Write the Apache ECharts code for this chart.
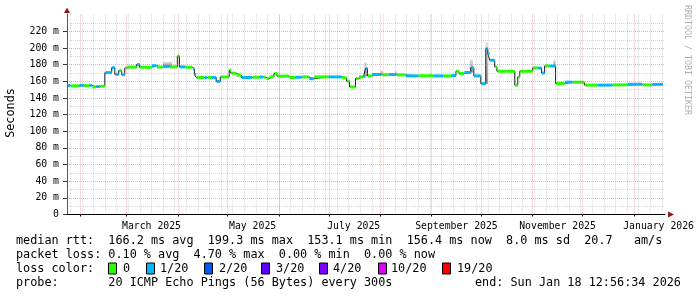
<!DOCTYPE html>
<html><head><meta charset="utf-8">
<script src="https://cdn.jsdelivr.net/npm/echarts@6/dist/echarts.min.js"></script>
<style>html,body{margin:0;padding:0;background:#fff}#c{width:697px;height:297px}</style>
</head><body><div id="c"></div>
<script>
// ---- data ----
const segStart = [
'2025-01-24T00:00','2025-01-25T20:00','2025-01-31T05:00','2025-02-03T05:00','2025-02-06T05:00','2025-02-08T00:00',
'2025-02-10T10:00','2025-02-12T20:00','2025-02-15T20:00','2025-02-20T00:00','2025-02-21T20:00','2025-02-24T05:00',
'2025-02-26T00:00','2025-02-27T20:00','2025-03-01T00:00','2025-03-07T00:00','2025-03-08T20:00','2025-03-16T00:00',
'2025-03-19T00:00','2025-03-22T15:00','2025-03-26T20:00','2025-03-31T14:00','2025-04-01T20:00','2025-04-05T10:00',
'2025-04-09T14:00','2025-04-10T20:00','2025-04-12T00:00','2025-04-16T20:00','2025-04-18T14:00','2025-04-21T00:00',
'2025-04-24T00:00','2025-04-26T12:00','2025-05-01T22:00','2025-05-03T02:00','2025-05-06T02:00','2025-05-09T02:00',
'2025-05-15T17:00','2025-05-19T22:00','2025-05-22T07:00','2025-05-24T02:00','2025-05-25T22:00','2025-05-28T22:00',
'2025-05-30T17:00','2025-06-06T22:00','2025-06-10T12:00','2025-06-14T17:00','2025-06-18T22:00','2025-06-21T22:00',
'2025-06-30T22:00','2025-07-08T17:00','2025-07-11T17:00','2025-07-13T12:00','2025-07-17T02:00','2025-07-18T22:00',
'2025-07-21T22:00','2025-07-23T02:00','2025-07-24T07:00','2025-07-26T17:00','2025-08-01T17:00','2025-08-05T22:00',
'2025-08-10T17:00','2025-08-16T02:00','2025-08-23T22:00','2025-09-01T22:00','2025-09-07T22:00','2025-09-12T17:00',
'2025-09-15T17:00','2025-09-17T12:00','2025-09-20T12:00','2025-09-24T17:00','2025-09-26T12:00','2025-09-30T17:00',
'2025-10-03T17:00','2025-10-04T22:00','2025-10-06T02:00','2025-10-09T02:00','2025-10-10T10:00','2025-10-21T05:00',
'2025-10-23T00:00','2025-10-24T05:00','2025-11-01T00:00','2025-11-04T00:00','2025-11-06T10:00','2025-11-08T05:00',
'2025-11-11T05:00','2025-11-14T20:00','2025-11-20T05:00','2025-11-25T00:00','2025-12-02T05:00','2025-12-10T00:00',
'2025-12-19T00:00','2025-12-28T00:00','2026-01-06T00:00','2026-01-12T00:00'
];
const medianMs = [
155.0,154.6,155.2,154.8,155.3,153.4,
153.8,154.2,170.5,176.5,168.5,173.0,
168.0,176.0,177.2,180.3,177.0,178.8,
177.2,178.0,177.5,190.5,177.4,177.0,
175.2,168.3,164.7,164.5,164.8,164.6,
160.0,165.4,173.8,169.8,167.5,164.7,
165.0,165.3,165.0,163.5,165.4,169.5,
166.3,164.7,165.0,165.4,163.2,165.4,
165.4,164.3,160.3,153.3,163.5,165.4,
166.0,175.5,166.6,168.3,168.0,168.3,
167.8,166.6,166.8,166.6,166.5,167.0,
172.2,169.5,170.7,176.2,166.6,157.2,
199.3,193.4,185.4,177.4,172.2,155.5,
165.4,172.2,176.2,176.0,170.0,178.6,
178.4,157.5,159.0,159.0,155.5,155.5,
155.8,156.5,155.8,156.4
];
const lossOf20 = [
1,0,1,0,1,0,
1,0,1,1,1,0,
1,0,0,1,0,1,
0,1,0,0,1,0,
1,1,0,1,0,1,
1,0,0,0,0,1,
0,1,0,0,0,0,
0,0,1,0,1,0,
1,0,0,0,0,0,
1,1,0,1,0,1,
0,1,0,1,0,1,
0,0,1,1,1,1,
1,1,1,0,0,0,
0,0,0,1,1,0,
1,0,1,0,0,1,
0,1,0,1
];
const dataEnd = '2026-01-18T12:56';
// smoke (ping spread) segments
const smokeStart = ['2025-03-23T00:00','2025-07-22T12:00','2025-08-01T08:00','2025-08-10T00:00','2025-09-24T00:00','2025-10-03T12:00','2025-11-13T12:00'];
const smokeEnd   = ['2025-03-28T12:00','2025-07-24T00:00','2025-08-02T12:00','2025-08-11T00:00','2025-09-26T00:00','2025-10-05T00:00','2025-11-14T20:00'];
const smokeHigh  = [183.5,183.0,173.0,172.5,186.0,207.0,186.0];

const xMin = '2025-01-24T00:00', xMax = '2026-01-19T20:00';
const xLabelDates = ['2025-03-16','2025-05-16','2025-07-16','2025-09-16','2025-11-16','2026-01-16'];
const xTickLabels = ['March 2025','May 2025','July 2025','September 2025','November 2025','January 2026'];
const yTickValues = [0,20,40,60,80,100,120,140,160,180,200,220];
const yTickLabels = ['0','20 m','40 m','60 m','80 m','100 m','120 m','140 m','160 m','180 m','200 m','220 m'];

const lossLevels = ['0','1/20','2/20','3/20','4/20','10/20','19/20'];
const lossColors = ['#26ff00','#00b8ff','#0059ff','#5e00ff','#7e00ff','#dd00ff','#ff0000'];

const legendLine1 = 'median rtt:  166.2 ms avg  199.3 ms max  153.1 ms min  156.4 ms now  8.0 ms sd  20.7   am/s';
const legendLine2 = 'packet loss: 0.10 % avg  4.70 % max  0.00 % min  0.00 % now';
const legendLine3 = 'loss color:';
const probeText = 'probe:       20 ICMP Echo Pings (56 Bytes) every 300s';
const endText = 'end: Sun Jan 18 12:56:34 2026';

// ---- build ----
const ts = s => new Date(s.length === 10 ? s + 'T00:00' : s).getTime();
function colorForLoss(n){ // n of 20
  if (n <= 0) return lossColors[0];
  if (n <= 1) return lossColors[1];
  if (n <= 2) return lossColors[2];
  if (n <= 3) return lossColors[3];
  if (n <= 4) return lossColors[4];
  if (n <= 10) return lossColors[5];
  return lossColors[6];
}
const segs = segStart.map((d,i)=>[ts(d), ts(i+1<segStart.length?segStart[i+1]:dataEnd), medianMs[i], lossOf20[i]]);
const lineData = segStart.map((d,i)=>[ts(d), medianMs[i]]).concat([[ts(dataEnd), medianMs[medianMs.length-1]]]);
const medianAt = t => { let v = medianMs[0]; for (let i=0;i<segStart.length;i++){ if (ts(segStart[i])<=t) v = medianMs[i]; } return v; };
const smokeData = smokeStart.map((d,i)=>[ts(d), ts(smokeEnd[i]), medianAt(ts(d)), smokeHigh[i]]);

// grid lines
const monthStarts = [];
for (let m = 1; m <= 12; m++) { const d = new Date(2025, m, 1); monthStarts.push(d.getTime()); }
const sundays = [];
for (let d = new Date(2025,0,26); d.getTime() <= ts(xMax); d = new Date(d.getFullYear(), d.getMonth(), d.getDate()+7)) sundays.push(d.getTime());
const majorStyle = {color:'rgba(225,90,90,0.45)', width:1, type:[1,1]};
const minorStyle = {color:'rgba(150,150,150,0.38)', width:1, type:[1,1]};
const gridMarks = [];
sundays.forEach(t=>gridMarks.push({xAxis:t, lineStyle:minorStyle}));
for (let v=10; v<=230; v+=20) gridMarks.push({yAxis:v, lineStyle:minorStyle});
monthStarts.forEach(t=>gridMarks.push({xAxis:t, lineStyle:majorStyle}));
for (let v=20; v<=220; v+=20) gridMarks.push({yAxis:v, lineStyle:majorStyle});

const labelTs = xLabelDates.map(ts);
const mono = 'DejaVu Sans Mono';
const legendFont = '11.8px "DejaVu Sans Mono"';
const txt = (x,y,t)=>({type:'text', x:x, y:y, style:{text:t, font:legendFont, fill:'#000', verticalAlign:'middle'}});

const graphics = [];
graphics.push({type:'text', x:11, y:113, rotation:Math.PI/2, style:{text:'Seconds', font:legendFont, fill:'#000', align:'center', verticalAlign:'middle'}});
graphics.push({type:'text', x:687, y:60, rotation:-Math.PI/2, style:{text:'RRDTOOL / TOBI OETIKER', font:'8.3px "DejaVu Sans Mono"', fill:'#b0b0b0', align:'center', verticalAlign:'middle'}});
graphics.push({type:'polygon', shape:{points:[[64,13],[70,13],[67,7.5]]}, style:{fill:'#8e1b1b'}});
graphics.push({type:'polygon', shape:{points:[[668,211.5],[668,217.5],[674,214.5]]}, style:{fill:'#8e1b1b'}});
const y1=241, y2=254.5, y3=268.5, y4=283;
graphics.push(txt(16,y1,legendLine1));
graphics.push(txt(16,y2,legendLine2));
graphics.push(txt(16,y3,legendLine3));
const boxX=[108,146,204,261,319,378,442], labX=[123,160,219,276,333,391,457];
lossLevels.forEach((l,i)=>{
  graphics.push({type:'rect', shape:{x:boxX[i]+0.5, y:y3-5.5, width:8, height:11}, style:{fill:lossColors[i], stroke:'#000', lineWidth:1}});
  graphics.push(txt(labX[i],y3,l));
});
graphics.push(txt(16,y4,probeText));
graphics.push(txt(475,y4,endText));

const chart = echarts.init(document.getElementById('c'), null, {renderer:'canvas'});
chart.setOption({
  animation:false,
  backgroundColor:'#fff',
  grid:{left:67, right:29, top:14, bottom:82.5, containLabel:false},
  xAxis:{type:'value', min:ts(xMin), max:ts(xMax), scale:true,
    axisLine:{show:true, onZero:false, lineStyle:{color:'#000', width:1}},
    axisTick:{show:true, customValues:monthStarts, length:2, lineStyle:{color:'#000'}},
    axisLabel:{customValues:labelTs, margin:6.5, fontFamily:mono, fontSize:9.8, color:'#000',
      formatter:(v)=>{ const i = labelTs.indexOf(v); return i>=0 ? xTickLabels[i] : ''; }},
    splitLine:{show:false}},
  yAxis:{type:'value', min:0, max:241,
    axisLine:{show:true, lineStyle:{color:'#555', width:1}},
    axisTick:{show:true, customValues:yTickValues, length:4, lineStyle:{color:'#333'}},
    axisLabel:{customValues:yTickValues, margin:8, fontFamily:mono, fontSize:9.8, color:'#000',
      formatter:(v)=>{ const i = yTickValues.indexOf(v); return i>=0 ? yTickLabels[i] : ''; }},
    splitLine:{show:false}},
  graphic:graphics,
  series:[
    {type:'line', data:[[ts(xMin),0]], symbol:'none', lineStyle:{opacity:0}, z:1, silent:true,
     markLine:{silent:true, symbol:'none', label:{show:false}, animation:false, data:gridMarks}},
    {type:'custom', z:2, silent:true, data:smokeData, encode:{x:[0,1], y:[2,3]},
     renderItem:(p,api)=>{
       const a = api.coord([api.value(0), api.value(3)]);
       const b = api.coord([api.value(1), api.value(2)]);
       return {type:'rect', shape:{x:a[0], y:a[1], width:Math.max(1,b[0]-a[0]), height:b[1]-a[1]},
         style:{fill:new echarts.graphic.LinearGradient(0,0,0,1,[{offset:0,color:'rgba(120,120,120,0.25)'},{offset:1,color:'rgba(80,80,80,0.6)'}])}};
     }},
    {type:'line', z:3, data:lineData, step:'end', symbol:'none', silent:true,
     lineStyle:{color:'#1a1a1a', width:1}},
    {type:'custom', z:4, silent:true, data:segs, encode:{x:[0,1], y:2},
     renderItem:(p,api)=>{
       const a = api.coord([api.value(0), api.value(2)]);
       const b = api.coord([api.value(1), api.value(2)]);
       return {type:'rect', shape:{x:a[0]+0.5, y:a[1]-1.5, width:Math.max(1,b[0]-a[0]-0.5), height:3},
         style:{fill:colorForLoss(api.value(3))}};
     }}
  ]
});
</script></body></html>
